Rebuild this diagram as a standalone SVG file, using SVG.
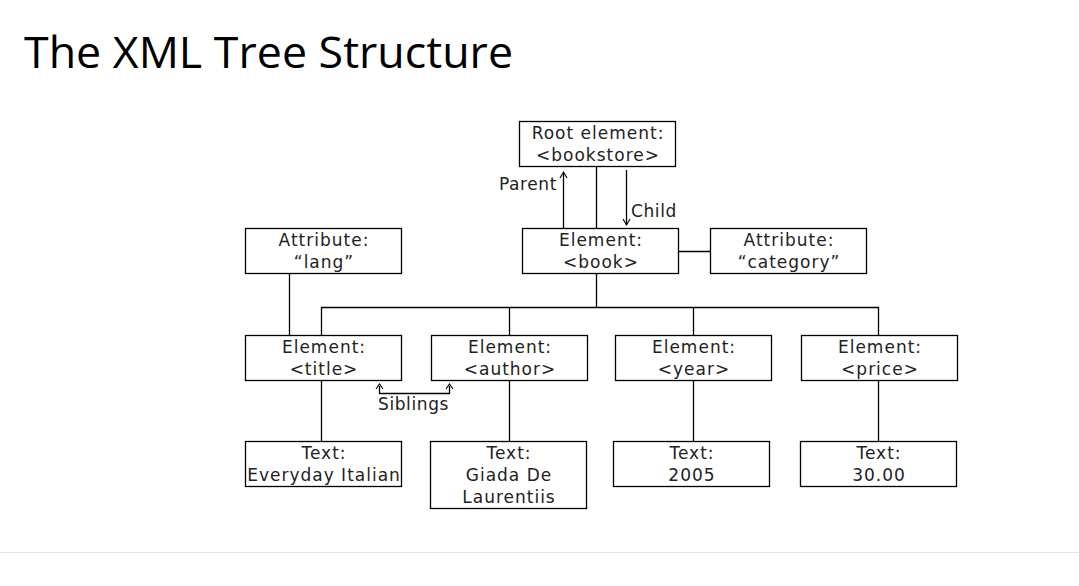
<svg xmlns="http://www.w3.org/2000/svg" width="1079" height="586" viewBox="0 0 1079 586">
<style>
.box{fill:#fff;stroke:#000;stroke-width:1.3}
.t{font-family:"DejaVu Sans",Verdana,sans-serif;font-size:17px;fill:#222;text-anchor:middle;letter-spacing:1px}
.l{font-family:"DejaVu Sans",Verdana,sans-serif;font-size:17px;fill:#222;letter-spacing:0.6px}
.c{stroke:#000;stroke-width:1.3;fill:none}
.ah{stroke:#000;stroke-width:1.1;fill:none}
</style>
<rect x="0" y="0" width="1079" height="586" fill="#fff"/>
<text x="24" y="68" font-family="'Open Sans','Noto Sans',sans-serif" font-size="44" fill="#000" textLength="489" lengthAdjust="spacingAndGlyphs">The XML Tree Structure</text>
<line x1="0" y1="552.5" x2="1079" y2="552.5" stroke="#e5e5e5" stroke-width="1"/>
<g id="connectors">
<path class="c" d="M596.5 166V228M678 251.5H710M596.5 273V307.5M321.5 307.5H878.5M321.5 307V335M509.5 307V335M693.5 307V335M878.5 307V335M289.5 273V335M321.5 380V441M509.5 380V441M693.5 380V441M878.5 380V441"/>
<path class="c" d="M563.5 228V173"/>
<path class="ah" d="M560 178L563.5 172L567 178"/>
<path class="c" d="M626.5 170V225"/>
<path class="ah" d="M623 219L626.5 225L630 219"/>
<path class="c" d="M379.5 386V393.5H449.5V386"/>
<path class="ah" d="M376 389L379.5 384L383 389M446 389L449.5 384L453 389"/>
<text class="l" x="557" y="190" text-anchor="end">Parent</text>
<text class="l" x="631" y="217">Child</text>
<text class="l" x="378" y="410">Siblings</text>
</g>
<g id="root"><rect class="box" x="519.5" y="121.5" width="156" height="45"/><text class="t" x="598" y="139">Root element:</text><text class="t" x="598" y="161">&lt;bookstore&gt;</text></g>
<g id="book"><rect class="box" x="522.5" y="228.5" width="156" height="45"/><text class="t" x="601" y="246">Element:</text><text class="t" x="601" y="268">&lt;book&gt;</text></g>
<g id="category"><rect class="box" x="710.5" y="228.5" width="156" height="45"/><text class="t" x="789" y="246">Attribute:</text><text class="t" x="789" y="268">“category”</text></g>
<g id="lang"><rect class="box" x="245.5" y="228.5" width="156" height="45"/><text class="t" x="324" y="246">Attribute:</text><text class="t" x="324" y="268">“lang”</text></g>
<g id="title"><rect class="box" x="245.5" y="335.5" width="156" height="45"/><text class="t" x="324" y="353">Element:</text><text class="t" x="324" y="375">&lt;title&gt;</text></g>
<g id="author"><rect class="box" x="431.5" y="335.5" width="156" height="45"/><text class="t" x="510" y="353">Element:</text><text class="t" x="510" y="375">&lt;author&gt;</text></g>
<g id="year"><rect class="box" x="615.5" y="335.5" width="156" height="45"/><text class="t" x="694" y="353">Element:</text><text class="t" x="694" y="375">&lt;year&gt;</text></g>
<g id="price"><rect class="box" x="801.5" y="335.5" width="156" height="45"/><text class="t" x="880" y="353">Element:</text><text class="t" x="880" y="375">&lt;price&gt;</text></g>
<g id="text-title"><rect class="box" x="245.5" y="441.5" width="156" height="45"/><text class="t" x="324" y="459">Text:</text><text class="t" x="324" y="481">Everyday Italian</text></g>
<g id="text-author"><rect class="box" x="430.5" y="441.5" width="156" height="67"/><text class="t" x="509" y="459">Text:</text><text class="t" x="509" y="481">Giada De</text><text class="t" x="509" y="503">Laurentiis</text></g>
<g id="text-year"><rect class="box" x="613.5" y="441.5" width="156" height="45"/><text class="t" x="692" y="459">Text:</text><text class="t" x="692" y="481">2005</text></g>
<g id="text-price"><rect class="box" x="800.5" y="441.5" width="156" height="45"/><text class="t" x="879" y="459">Text:</text><text class="t" x="879" y="481">30.00</text></g>
</svg>
